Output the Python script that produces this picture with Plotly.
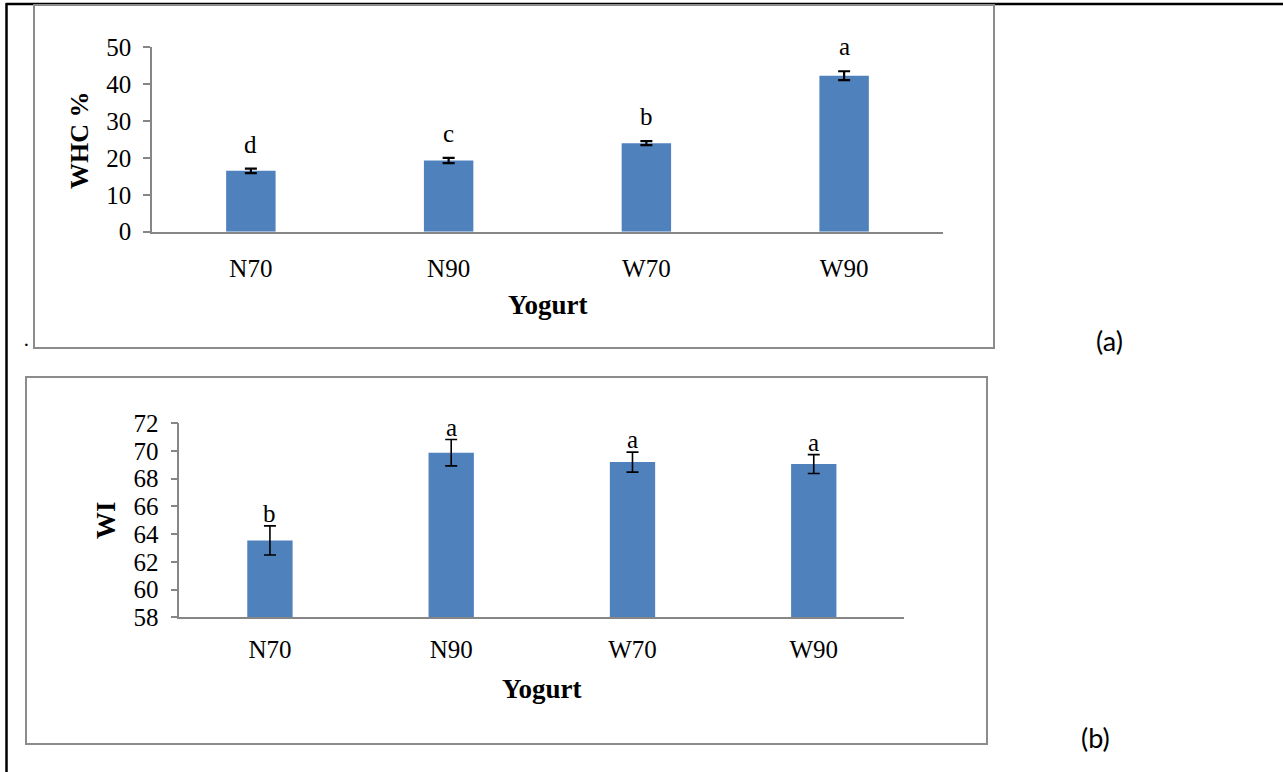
import plotly.graph_objects as go

# ---- data ----
yogurts = ["N70", "N90", "W70", "W90"]

whc_values = [16.5, 19.3, 24.0, 42.3]
whc_errors = [0.6, 0.7, 0.55, 1.2]
whc_letters = ["d", "c", "b", "a"]
whc_ticks = [0, 10, 20, 30, 40, 50]

wi_values = [63.55, 69.88, 69.2, 69.06]
wi_errors = [1.05, 0.95, 0.72, 0.68]
wi_letters = ["b", "a", "a", "a"]
wi_ticks = [58, 60, 62, 64, 66, 68, 70, 72]

# ---- page geometry (pixels) ----
W, H = 1283, 772
BAR_COLOR = "#4F81BD"
AXIS_COLOR = "#868686"
SERIF = "Liberation Serif, Times New Roman, serif"


def px_x(x):
    return x / W


def px_y(y):
    return 1 - y / H


fig = go.Figure()

fig.add_trace(go.Bar(
    x=yogurts, y=whc_values, xaxis="x", yaxis="y",
    marker=dict(color=BAR_COLOR, line=dict(width=0)),
    error_y=dict(type="data", array=whc_errors, color="black", thickness=2.2, width=6),
    showlegend=False,
))
fig.add_trace(go.Bar(
    x=yogurts, y=wi_values, xaxis="x2", yaxis="y2",
    marker=dict(color=BAR_COLOR, line=dict(width=0)),
    error_y=dict(type="data", array=wi_errors, color="black", thickness=1.6, width=6),
    showlegend=False,
))

tick_font = dict(family=SERIF, size=25, color="black")

xaxis_common = dict(
    type="category", range=[-0.5, 3.5], showline=True, linecolor=AXIS_COLOR,
    linewidth=1.6, showgrid=False, zeroline=False, ticks="", tickfont=tick_font,
    fixedrange=True, automargin=False,
)
yaxis_common = dict(
    showline=True, linecolor=AXIS_COLOR, linewidth=1.6, showgrid=False,
    zeroline=False, ticks="outside", ticklen=7, tickwidth=1.6, tickcolor=AXIS_COLOR,
    tickfont=tick_font, ticklabelstandoff=7, fixedrange=True, automargin=False,
)

fig.update_layout(
    width=W, height=H,
    margin=dict(l=0, r=0, t=0, b=0, pad=0, autoexpand=False),
    paper_bgcolor="white", plot_bgcolor="white",
    bargap=0.75,
    xaxis=dict(xaxis_common, domain=[px_x(152), px_x(943)], anchor="y",
               ticklabelstandoff=13),
    yaxis=dict(yaxis_common, domain=[px_y(231.7), px_y(47.3)], anchor="x",
               range=[0, 50], tickvals=whc_ticks),
    xaxis2=dict(xaxis_common, domain=[px_x(179.3), px_x(904.4)], anchor="y2",
                ticklabelstandoff=9),
    yaxis2=dict(yaxis_common, domain=[px_y(617.3), px_y(423.3)], anchor="x2",
                range=[58, 72], tickvals=wi_ticks),
)

annotations = []

# significance letters above each error bar
for cat, v, e, t in zip(yogurts, whc_values, whc_errors, whc_letters):
    annotations.append(dict(x=cat, y=v + e, xref="x", yref="y", text=t,
                            showarrow=False, xanchor="center", yanchor="bottom", yshift=9,
                            font=dict(family=SERIF, size=25, color="black")))
for cat, v, e, t in zip(yogurts, wi_values, wi_errors, wi_letters):
    annotations.append(dict(x=cat, y=v + e, xref="x2", yref="y2", text=t,
                            showarrow=False, xanchor="center", yanchor="bottom", yshift=-3,
                            font=dict(family=SERIF, size=25, color="black")))


def paper_text(x, y, text, font, angle=0):
    return dict(x=px_x(x), y=px_y(y), xref="paper", yref="paper", text=text,
                textangle=angle, showarrow=False, xanchor="center", yanchor="middle",
                font=font)


title_font = dict(family=SERIF, size=27, color="black")
label_font = dict(family="Lato, Open Sans, sans-serif", size=27, color="black")

annotations += [
    # axis titles
    paper_text(80, 140, "<b>WHC %</b>", dict(title_font, size=26), -90),
    paper_text(548, 305, "<b>Yogurt</b>", title_font),
    paper_text(106, 520, "<b>WI</b>", title_font, -90),
    paper_text(542, 689, "<b>Yogurt</b>", title_font),
    # panel labels and the stray full stop
    paper_text(1109, 340, "(a)", label_font),
    paper_text(1095, 737, "(b)", label_font),
    paper_text(26, 338, ".", dict(family="Lato, sans-serif", size=20, color="black")),
]
fig.update_layout(annotations=annotations)

shapes = [
    # outer black frame (top and left only)
    dict(type="line", xref="paper", yref="paper", x0=px_x(6), x1=1, y0=px_y(4), y1=px_y(4),
         line=dict(color="black", width=2.5)),
    dict(type="line", xref="paper", yref="paper", x0=px_x(6.5), x1=px_x(6.5), y0=px_y(3), y1=0,
         line=dict(color="black", width=2.5)),
    # chart borders
    dict(type="rect", xref="paper", yref="paper", x0=px_x(34), x1=px_x(994),
         y0=px_y(348), y1=px_y(5), line=dict(color="#8c8c8c", width=2)),
    dict(type="rect", xref="paper", yref="paper", x0=px_x(26), x1=px_x(987),
         y0=px_y(744), y1=px_y(377), line=dict(color="#8c8c8c", width=2)),
]
fig.update_layout(shapes=shapes)

fig.write_html("out.html")
